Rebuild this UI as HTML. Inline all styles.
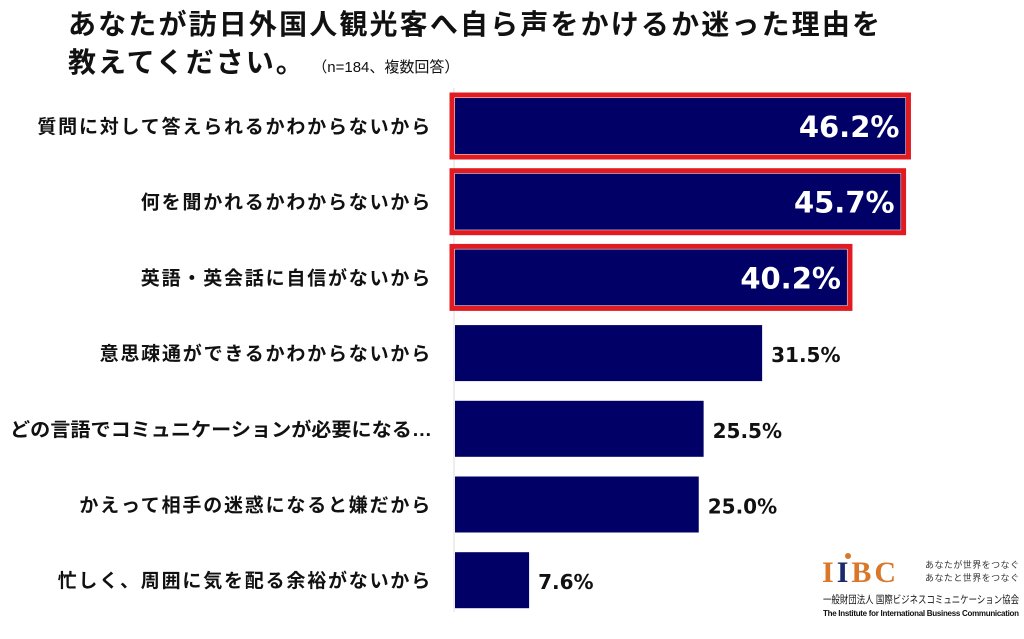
<!DOCTYPE html>
<html><head><meta charset="utf-8"><style>
body{margin:0;background:#fff;width:1024px;height:634px;overflow:hidden;font-family:"Liberation Sans","Noto Sans CJK JP",sans-serif}
</style></head><body>
<svg width="1024" height="634" xmlns="http://www.w3.org/2000/svg">
<text x="68" y="34" font-size="28" font-weight="bold" fill="#111" font-family="Liberation Sans,Noto Sans CJK JP,sans-serif" textLength="812" lengthAdjust="spacing">あなたが訪日外国人観光客へ自ら声をかけるか迷った理由を</text>
<text x="68" y="72" font-size="28" font-weight="bold" fill="#111" font-family="Liberation Sans,Noto Sans CJK JP,sans-serif"><tspan letter-spacing="2">教えてください。</tspan><tspan font-size="15" font-weight="normal" dx="14">（n=184、複数回答）</tspan></text>
<line x1="454" y1="88" x2="454" y2="612" stroke="#ddd" stroke-width="1"/>
<g id="bars"></g>
<g font-family="Liberation Serif,Noto Serif CJK SC,serif">
<text x="822" y="582" font-size="30" font-weight="bold" fill="#d9782a" letter-spacing="3">I<tspan fill="#1a2a6c">I</tspan>BC</text>
<circle cx="848" cy="556" r="3" fill="#d9782a"/>
<text x="925" y="568" font-size="9" fill="#333" font-family="Liberation Sans,Noto Sans CJK JP,sans-serif" textLength="94">あなたが世界をつなぐ</text>
<text x="925" y="581" font-size="9" fill="#333" font-family="Liberation Sans,Noto Sans CJK JP,sans-serif" textLength="94">あなたと世界をつなぐ</text>
<text x="823" y="603" font-size="10.5" fill="#111" font-family="Liberation Sans,Noto Sans CJK JP,sans-serif" textLength="196" lengthAdjust="spacingAndGlyphs">一般財団法人 国際ビジネスコミュニケーション協会</text>
<text x="823" y="616" font-size="8" font-weight="bold" fill="#111" font-family="Liberation Sans,sans-serif" textLength="196">The Institute for International Business Communication</text>
</g>
</svg>
<script>
const categories=["質問に対して答えられるかわからないから","何を聞かれるかわからないから","英語・英会話に自信がないから","意思疎通ができるかわからないから","どの言語でコミュニケーションが必要になる…","かえって相手の迷惑になると嫌だから","忙しく、周囲に気を配る余裕がないから"];
const values=[46.2,45.7,40.2,31.5,25.5,25.0,7.6];
const highlighted=[true,true,true,false,false,false,false];
const NS="http://www.w3.org/2000/svg";
const g=document.getElementById('bars');
const x0=455,scale=9.75;
function xs(v){return x0+v*scale;}
function yc(i){return 126+i*75.7;}
const bh=56;
function mk(t,a){const e=document.createElementNS(NS,t);for(const k in a)e.setAttribute(k,a[k]);g.appendChild(e);return e;}
categories.forEach((c,i)=>{
 const y=yc(i),w=xs(values[i])-x0;
 const lab=mk('text',{x:432,y:y+7,'font-size':19,'font-weight':'bold','text-anchor':'end',fill:'#111','letter-spacing':1.8});
 
 
 lab.textContent=c;
 if(lab.getComputedTextLength()>422){lab.setAttribute('textLength',422);lab.setAttribute('lengthAdjust','spacingAndGlyphs');lab.setAttribute('letter-spacing',0);}
 const r=mk('rect',{x:x0,y:y-bh/2,width:w,height:bh,fill:'#000066'});
 
 
 if(highlighted[i]){
  const b=mk('rect',{x:x0-3,y:y-bh/2-3,width:w+6,height:bh+6,fill:'none',stroke:'#e01b22','stroke-width':5});
  
  
  const t=mk('text',{x:xs(values[i])-6,y:y+11,'font-size':29,'font-weight':'bold','text-anchor':'end',fill:'#fff','font-family':'DejaVu Sans,sans-serif'});
  
  
  t.textContent=values[i].toFixed(1)+'%';
 }else{
  const t=mk('text',{x:xs(values[i])+9,y:y+9,'font-size':20,'font-weight':'bold',fill:'#111','font-family':'DejaVu Sans,sans-serif'});
  
  
  t.textContent=values[i].toFixed(1)+'%';
 }
});
</script>
</body></html>
